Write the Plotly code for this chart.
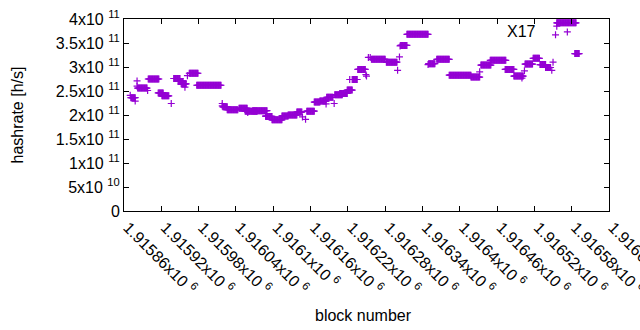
import plotly.graph_objects as go

# Runs of consecutive blocks sharing the same hashrate (value in units of 1e11 h/s)
run_start = [1915870, 1915871, 1915878, 1915881, 1915881, 1915882, 1915898, 1915899, 1915915, 1915921,
             1915936, 1915940, 1915947, 1915952, 1915958, 1915962, 1915965, 1915977, 1916018, 1916018,
             1916019, 1916026, 1916045, 1916059, 1916055, 1916067, 1916088, 1916088, 1916098, 1916114,
             1916124, 1916138, 1916147, 1916152, 1916154, 1916166, 1916175, 1916185, 1916186, 1916198,
             1916199, 1916207, 1916219, 1916223, 1916227, 1916236, 1916249, 1916250, 1916253, 1916256,
             1916258, 1916282, 1916300, 1916303, 1916304, 1916305, 1916315, 1916349, 1916350, 1916363,
             1916383, 1916418, 1916432, 1916434, 1916449, 1916473, 1916487, 1916500, 1916504, 1916505,
             1916518, 1916529, 1916538, 1916548, 1916550, 1916554, 1916556, 1916556, 1916573, 1916585]
run_end = [1915870, 1915878, 1915878, 1915881, 1915881, 1915897, 1915898, 1915916, 1915923, 1915932,
           1915936, 1915950, 1915955, 1915960, 1915958, 1915962, 1915979, 1916016, 1916018, 1916018,
           1916026, 1916043, 1916058, 1916059, 1916074, 1916090, 1916088, 1916098, 1916114, 1916124,
           1916138, 1916146, 1916147, 1916152, 1916166, 1916175, 1916185, 1916185, 1916196, 1916198,
           1916211, 1916219, 1916227, 1916223, 1916235, 1916248, 1916249, 1916250, 1916253, 1916256,
           1916280, 1916299, 1916300, 1916303, 1916304, 1916315, 1916349, 1916349, 1916360, 1916383,
           1916418, 1916432, 1916432, 1916450, 1916474, 1916487, 1916502, 1916500, 1916504, 1916517,
           1916528, 1916538, 1916546, 1916548, 1916550, 1916554, 1916556, 1916587, 1916573, 1916592]
run_value = [2.41, 2.36, 2.29, 2.71, 2.60, 2.56, 2.51, 2.75, 2.46, 2.40,
             2.24, 2.76, 2.70, 2.65, 2.58, 2.82, 2.87, 2.62, 2.24, 2.19,
             2.17, 2.11, 2.14, 2.05, 2.08, 2.09, 1.98, 1.97, 1.90, 1.98,
             2.00, 2.06, 1.96, 1.91, 2.08, 2.27, 2.29, 2.23, 2.37, 2.24,
             2.42, 2.45, 2.52, 2.74, 2.74, 2.95, 2.84, 2.81, 3.20, 3.20,
             3.16, 3.10, 2.93, 3.21, 3.44, 3.45, 3.68, 3.05, 3.07, 3.16,
             2.83, 2.79, 2.90, 3.04, 3.14, 2.95, 2.81, 2.77, 2.92, 3.06,
             3.18, 3.05, 2.99, 2.93, 3.10, 3.67, 3.85, 3.92, 3.73, 3.28]

x_tick_values = [1915860, 1915920, 1915980, 1916040, 1916100, 1916160, 1916220,
                 1916280, 1916340, 1916400, 1916460, 1916520, 1916580, 1916640]
x_tick_labels = ["1.91586x10 <sup>6</sup>", "1.91592x10 <sup>6</sup>", "1.91598x10 <sup>6</sup>",
                 "1.91604x10 <sup>6</sup>", "1.9161x10 <sup>6</sup>", "1.91616x10 <sup>6</sup>",
                 "1.91622x10 <sup>6</sup>", "1.91628x10 <sup>6</sup>", "1.91634x10 <sup>6</sup>",
                 "1.9164x10 <sup>6</sup>", "1.91646x10 <sup>6</sup>", "1.91652x10 <sup>6</sup>",
                 "1.91658x10 <sup>6</sup>", "1.91664x10 <sup>6</sup>"]
y_tick_values = [0, 5e10, 1e11, 1.5e11, 2e11, 2.5e11, 3e11, 3.5e11, 4e11]
y_tick_labels = ["0", "5x10 <sup>10</sup>", "1x10 <sup>11</sup>", "1.5x10 <sup>11</sup>",
                 "2x10 <sup>11</sup>", "2.5x10 <sup>11</sup>", "3x10 <sup>11</sup>",
                 "3.5x10 <sup>11</sup>", "4x10 <sup>11</sup>"]

label_text = "X17"
label_block = 1916472
label_value = 3.73e11

xs, ys = [], []
for s, e, v in zip(run_start, run_end, run_value):
    for b in range(s, e + 1):
        xs.append(b)
        ys.append(v * 1e11)

FONT = "Liberation Sans"
COLOR = "#9400d3"

fig = go.Figure()
fig.add_trace(go.Scatter(
    x=xs, y=ys, mode="markers",
    marker=dict(symbol="cross-thin", size=5, color=COLOR,
                line=dict(color=COLOR, width=1.2)),
    showlegend=False, hoverinfo="skip"))

axis_common = dict(showline=True, linecolor="black", linewidth=1, mirror="ticks",
                   ticks="inside", ticklen=5, tickcolor="black", tickwidth=1,
                   showgrid=False, zeroline=False, automargin=False,
                   ticklabeloverflow="allow",
                   tickfont=dict(family=FONT, size=16, color="black"))

fig.update_layout(
    width=640, height=330,
    margin=dict(l=124, r=31, t=19, b=119, pad=0),
    paper_bgcolor="white", plot_bgcolor="white",
    font=dict(family=FONT, size=16, color="black"),
    xaxis=dict(range=[1915860, 1916640], tickmode="array", tickvals=x_tick_values,
               ticktext=x_tick_labels, tickangle=45, ticklabelshift=4, **axis_common),
    yaxis=dict(range=[0, 4e11], tickmode="array", tickvals=y_tick_values,
               ticktext=y_tick_labels, **axis_common),
    annotations=[
        dict(text="hashrate [h/s]", xref="paper", yref="paper", x=-0.2196, y=0.5,
             textangle=-90, xanchor="center", yanchor="middle", showarrow=False,
             font=dict(family=FONT, size=16, color="black")),
        dict(text="block number", xref="paper", yref="paper", x=0.4948, y=-0.5417,
             xanchor="center", yanchor="middle", showarrow=False,
             font=dict(family=FONT, size=16, color="black")),
        dict(text=label_text, xref="x", yref="y", x=label_block, y=label_value,
             xanchor="left", yanchor="middle", showarrow=False,
             font=dict(family=FONT, size=16, color="black")),
    ],
)

fig.write_html("out.html", config={"displayModeBar": False},
               post_script="document.body.style.margin='0';document.body.style.padding='0';")
